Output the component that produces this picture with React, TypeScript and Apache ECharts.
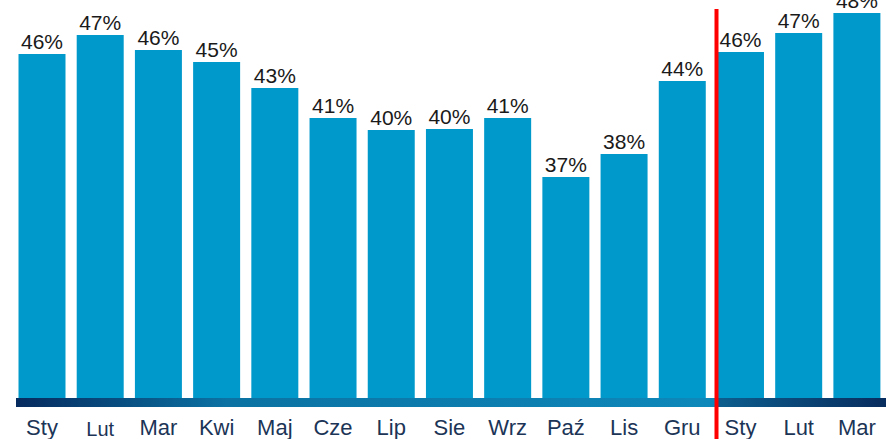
import React, { useEffect, useRef } from "react";
import * as echarts from "echarts";

const categories = ["Sty", "Lut", "Mar", "Kwi", "Maj", "Cze", "Lip", "Sie", "Wrz", "Paź", "Lis", "Gru", "Sty", "Lut", "Mar"];
const values = [45.51, 46.88, 45.8, 44.93, 43.04, 40.87, 40.0, 40.07, 40.87, 36.59, 38.26, 43.55, 45.65, 47.03, 48.48];

const BAR_COLOR = "#0099cc";
const LABEL_COLOR = "#1c3557";

export default function App() {
  const ref = useRef<HTMLDivElement>(null);
  useEffect(() => {
    document.body.style.margin = "0";
    if (!ref.current) return;
    const chart = echarts.init(ref.current, null, { renderer: "svg" });
    const xData = categories.map((c, i) =>
      i === 1 ? { value: c, textStyle: { fontSize: 20, padding: [3, 0, 0, 0] } } : c
    );
    chart.setOption({
      animation: false,
      backgroundColor: "#ffffff",
      grid: { left: 12.9, width: 881.8, top: 5.8, bottom: 33, containLabel: false },
      xAxis: {
        type: "category",
        data: xData,
        axisLine: { show: false },
        axisTick: { show: false },
        axisLabel: {
          color: LABEL_COLOR,
          fontSize: 22,
          fontFamily: "Arial, 'Liberation Sans', sans-serif",
          margin: 10,
          interval: 0,
        },
      },
      yAxis: {
        type: "value",
        min: 20,
        max: 49,
        show: false,
        splitLine: { show: false },
      },
      series: [
        {
          type: "bar",
          data: values,
          barWidth: 47,
          itemStyle: { color: BAR_COLOR },
          label: {
            show: true,
            position: "top",
            distance: 2,
            color: "#1a1a1a",
            fontSize: 21,
            fontFamily: "Arial, 'Liberation Sans', sans-serif",
            formatter: (p: any) => Math.round(p.value) + "%",
          },
        },
      ],
      graphic: [
        {
          type: "rect",
          z: 100,
          shape: { x: 16, y: 398, width: 700, height: 9 },
          style: {
            fill: new echarts.graphic.LinearGradient(0, 0, 1, 0, [
              { offset: 0, color: "#062a5e" },
              { offset: 0.3, color: "#0b72a3" },
              { offset: 1, color: "#0e88ba" },
            ]),
          },
        },
        {
          type: "rect",
          z: 100,
          shape: { x: 716, y: 398, width: 170, height: 9 },
          style: {
            fill: new echarts.graphic.LinearGradient(0, 0, 1, 0, [
              { offset: 0, color: "#0c5e8e" },
              { offset: 1, color: "#082c5e" },
            ]),
          },
        },
        {
          type: "line",
          z: 101,
          shape: { x1: 716.5, y1: 9, x2: 716.5, y2: 439 },
          style: { stroke: "#ff0000", lineWidth: 4 },
        },
      ],
    });
    return () => chart.dispose();
  }, []);
  return <div ref={ref} style={{ width: 886, height: 439 }} />;
}
